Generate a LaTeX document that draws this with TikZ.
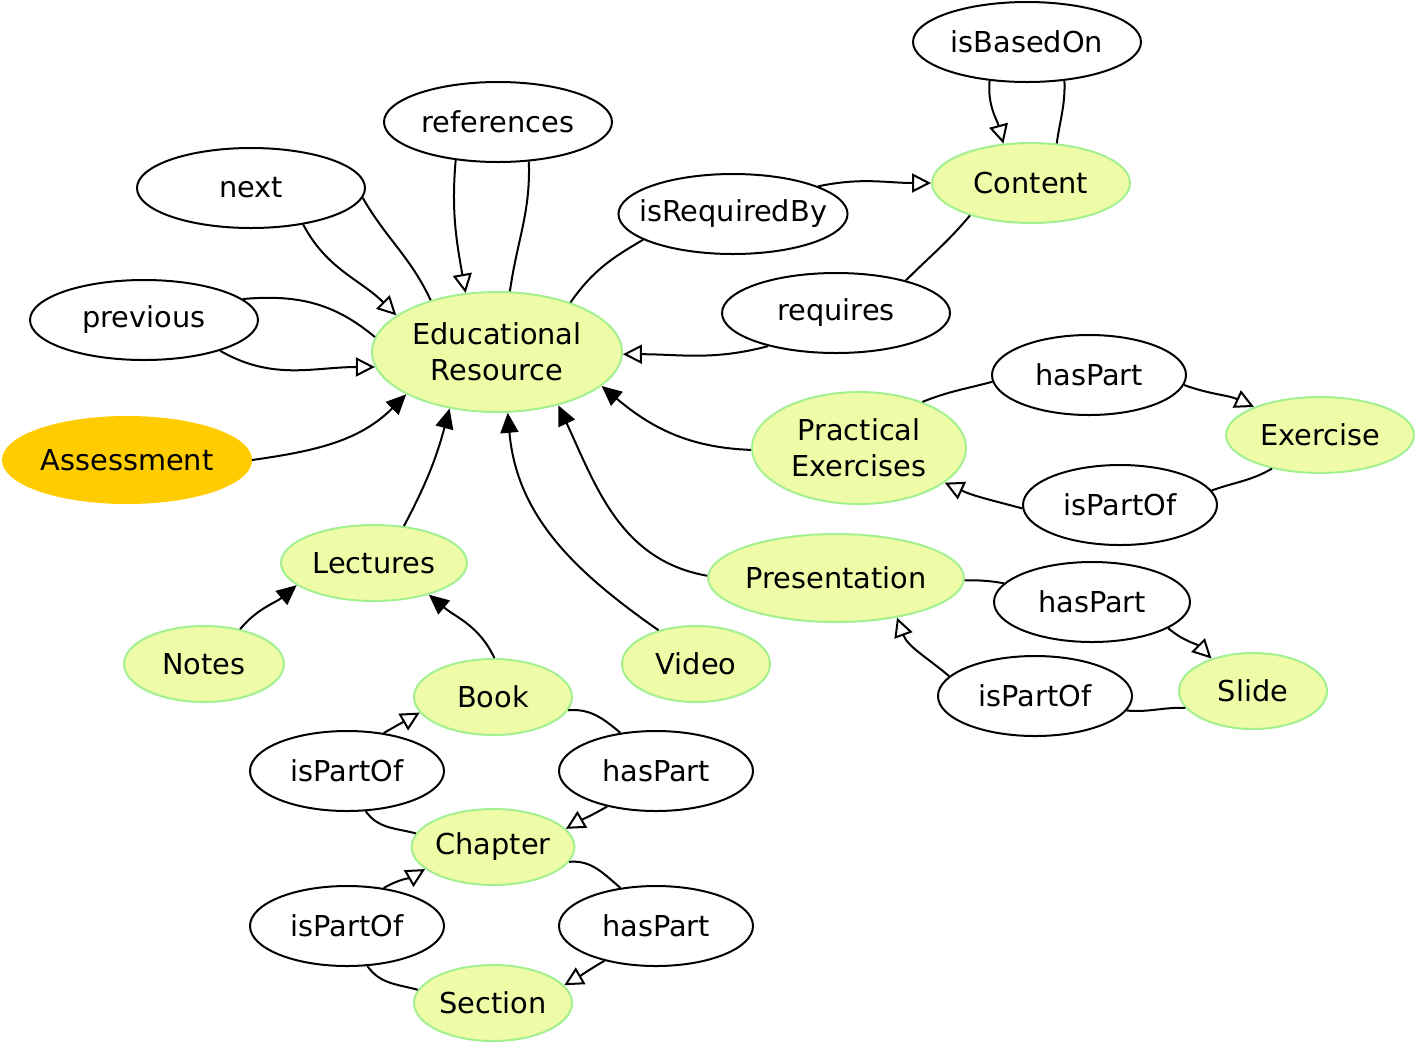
\documentclass[tikz,border=0pt]{standalone}
\usepackage{fontspec}
\setmainfont{DejaVu Sans}
\usetikzlibrary{arrows.meta,shapes.geometric}
\definecolor{clsfill}{HTML}{EEFCA8}
\definecolor{clsdraw}{HTML}{A2F090}
\definecolor{assessfill}{HTML}{FFCC00}
\begin{document}
\begin{tikzpicture}[
        x=0.5pt, y=-0.5pt,
        cls/.style={
            ellipse,
            draw=clsdraw,
            fill=clsfill,
            line width=1pt,
            align=center,
            inner sep=0pt,
            font=\fontsize{14.4}{18}\selectfont
        },
        rel/.style={
            ellipse,
            draw,
            fill=white,
            line width=1pt,
            align=center,
            inner sep=0pt,
            minimum height=40pt,
            font=\fontsize{14.4}{18}\selectfont
        },
        relline/.style={line width=1pt},
        relarrow/.style={-{Triangle[open, length=9.5pt, width=9.5pt]}, line width=1pt},
        subarrow/.style={-{Triangle[length=10pt, width=9pt]}, line width=1pt}
    ]
        \useasboundingbox (0,0) rectangle (1418,1046);

        \node[cls, minimum width=125pt, minimum height=60pt] (er) at (497,352) {Educational\\Resource};
        \node[rel, minimum width=114pt] (ref) at (498,122) {references};
        \node[rel, minimum width=114pt] (next) at (251,188) {next};
        \node[rel, minimum width=114pt] (prev) at (144,320) {previous};
        \node[cls, draw=assessfill, fill=assessfill, minimum width=124pt, minimum height=43pt] (assess) at (127,460) {Assessment};
        \node[rel, minimum width=114pt] (based) at (1027,42) {isBasedOn};
        \node[cls, minimum width=99pt, minimum height=40pt] (content) at (1031,183) {Content};
        \node[rel, minimum width=114pt, inner xsep=-6.5pt] (reqby) at (733,214) {isRequiredBy};
        \node[rel, minimum width=114pt] (req) at (836,313) {requires};
        \node[rel, minimum width=97pt] (pehas) at (1089,375) {hasPart};
        \node[cls, minimum width=107pt, minimum height=56pt] (pe) at (859,448) {Practical\\Exercises};
        \node[cls, minimum width=94pt, minimum height=38pt] (exercise) at (1320,435) {Exercise};
        \node[rel, minimum width=97pt] (pepart) at (1120,505) {isPartOf};
        \node[cls, minimum width=93pt, minimum height=38pt] (lect) at (374,563) {Lectures};
        \node[cls, minimum width=125pt, minimum height=44pt] (pres) at (836,578) {Presentation};
        \node[rel, minimum width=98pt] (prhas) at (1092,602) {hasPart};
        \node[cls, minimum width=80pt, minimum height=38pt] (notes) at (204,664) {Notes};
        \node[cls, minimum width=74pt, minimum height=38pt] (video) at (696,664) {Video};
        \node[rel, minimum width=97pt] (prpart) at (1035,696) {isPartOf};
        \node[cls, minimum width=74pt, minimum height=38pt] (slide) at (1253,691) {Slide};
        \node[cls, minimum width=79pt, minimum height=38pt] (book) at (493,697) {Book};
        \node[rel, minimum width=97pt] (bkpart) at (347,771) {isPartOf};
        \node[rel, minimum width=97pt] (bkhas) at (656,771) {hasPart};
        \node[cls, minimum width=79pt, minimum height=38pt] (chapter) at (493,847) {Chapter};
        \node[rel, minimum width=97pt] (chpart) at (347,926) {isPartOf};
        \node[rel, minimum width=97pt] (chhas) at (656,926) {hasPart};
        \node[cls, minimum width=79pt, minimum height=38pt] (section) at (493,1003) {Section};

        \draw[relline] (er.142) to[out=115, in=-60] (next.-5);
        \draw[relarrow] (next.-35) to[out=-62, in=135] (er.160);
        \draw[relline] (er.78) to[out=82, in=-88] (ref.-52);
        \draw[relarrow] (ref.-138) to[out=-95, in=100] (er.118);
        \draw[relline] (er.173) to[out=140, in=5] (prev.12);
        \draw[relarrow] (prev.-22) to[out=-30, in=180] (er.-173);
        \draw[relline] (er.34) to[out=55, in=-150] (reqby.-164);
        \draw[relarrow] (reqby.18) to[out=12, in=180] (content.180);
        \draw[relline] (content.-152) to[out=-130, in=45] (req.25);
        \draw[relarrow] (req.-154) to[out=-165, in=0] (er.-1);
        \draw[relline] (content.57) to[out=82, in=-88] (based.-46);
        \draw[relarrow] (based.-134) to[out=-95, in=105] (content.125);

        \draw[relline] (pe.36) to[out=22, in=195] (pehas.184);
        \draw[relarrow] (pehas.-6) to[out=-20, in=155] (exercise.157);
        \draw[relline] (exercise.-145) to[out=-150, in=20] (pepart.9);
        \draw[relarrow] (pepart.182) to[out=165, in=-25] (pe.-22);
        \draw[relline] (pres.-1) to[out=0, in=170] (prhas.168);
        \draw[relarrow] (prhas.-19) to[out=-40, in=135] (slide.142);
        \draw[relline] (slide.194) to[out=178, in=-5] (prpart.-9);
        \draw[relarrow] (prpart.167) to[out=140, in=-70] (pres.-33);

        \draw[relline] (book.-10) to[out=5, in=140] (bkhas.133);
        \draw[relarrow] (bkhas.-144) to[out=-150, in=30] (chapter.14);
        \draw[relline] (chapter.170) to[out=165, in=-55] (bkpart.-65);
        \draw[relarrow] (bkpart.46) to[out=30, in=210] (book.-168);
        \draw[relline] (chapter.-11) to[out=5, in=140] (chhas.133);
        \draw[relarrow] (chhas.-146) to[out=-150, in=30] (section.14);
        \draw[relline] (section.170) to[out=165, in=-55] (chpart.-63);
        \draw[relarrow] (chpart.46) to[out=30, in=210] (chapter.-162);

        \draw[subarrow] (assess.0) to[out=8, in=-135] (er.-155);
        \draw[subarrow] (lect.51) to[out=62, in=-105] (er.-130);
        \draw[subarrow] (video.138) to[out=145, in=-85] (er.-80);
        \draw[subarrow] (pres.179) to[out=170, in=-65] (er.-41);
        \draw[subarrow] (pe.181) to[out=178, in=-40] (er.-18);
        \draw[subarrow] (notes.44) to[out=50, in=-140] (lect.-164);
        \draw[subarrow] (book.88) to[out=115, in=-40] (lect.-30);
    \end{tikzpicture}
\end{document}
